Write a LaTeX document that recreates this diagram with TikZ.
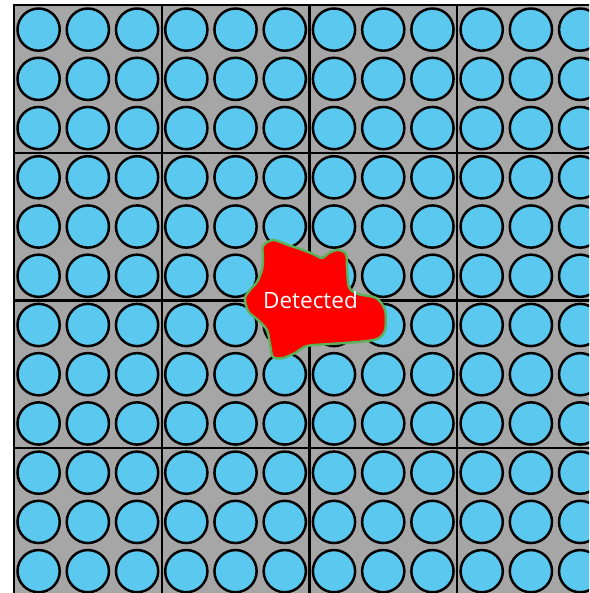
\documentclass[tikz,border=0pt]{standalone}
\usepackage{fontspec}
\newfontfamily\labelfont{Open Sans}
\definecolor{panel}{HTML}{A6A6A6}
\definecolor{cell}{HTML}{5BC9EF}
\definecolor{hit}{HTML}{FF0000}
\definecolor{hitedge}{HTML}{5AB25B}
\tikzset{
  block/.style={fill=panel, draw=black, line width=2.2pt},
  sensor/.style={circle, fill=cell, draw=black, line width=2.5pt, minimum size=42.2pt, inner sep=0pt},
  blob/.style={fill=hit, draw=hitedge, line width=2.4pt},
  tag/.style={font=\labelfont\fontsize{22.5}{26}\selectfont, text=white, inner sep=0pt},
}
\begin{document}
\begin{tikzpicture}[x=1pt, y=-1pt]
  \def\bw{147.7}  % block size
  \def\cw{49.23}  % cell pitch
  \def\xo{14}     \def\yo{5}

  \useasboundingbox (0,0) rectangle (589,593);
  \clip (0,0) rectangle (589,593);

  % --- 4x4 blocks ------------------------------------------------------------
  \foreach \i in {0,...,3} {
    \foreach \j in {0,...,3} {
      \draw[block] (\xo+\i*\bw, \yo+\j*\bw) rectangle ++(\bw, \bw);
    }
  }

  % --- 12x12 sensors -----------------------------------------------------------
  \foreach \i in {0,...,11} {
    \foreach \j in {0,...,11} {
      \node[sensor] (s\i-\j) at (\xo+\cw/2+\i*\cw, \yo+\cw/2+\j*\cw) {};
    }
  }

  % --- detected region ---------------------------------------------------------
  \draw[blob] plot[smooth cycle, tension=0.5] coordinates {
    (263,246) (273,240) (288,245) (300,249) (313,254) (322,258) (329,253)
    (338,250) (346,254) (347,268) (349,287) (358,294) (376,298) (385,310)
    (385,330) (377,339) (357,342) (330,344) (307,346) (295,353) (283,358)
    (273,357) (270,344) (267,330) (258,320) (248,311) (245,298) (250,290)
    (257,282) (262,270) (263,257)};
  \node[tag, anchor=base] (det) at (310.5,308) {Detected};
\end{tikzpicture}
\end{document}
